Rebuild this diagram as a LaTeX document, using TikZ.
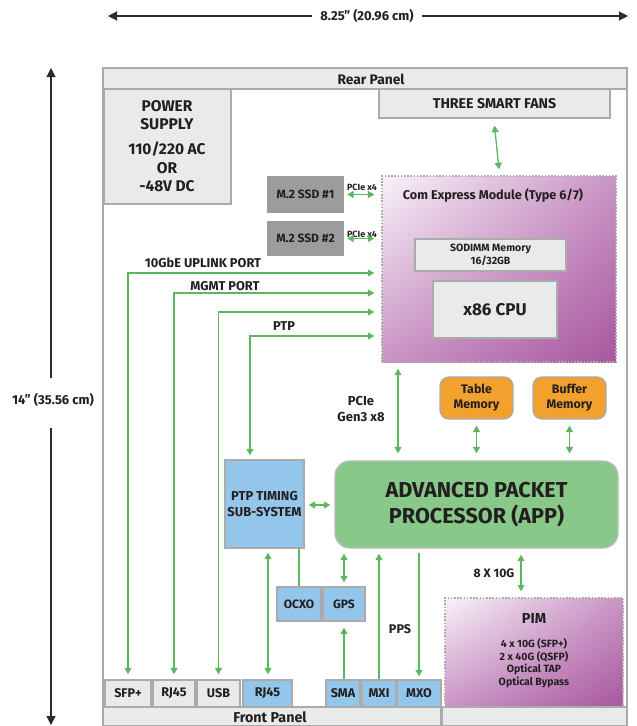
\documentclass[tikz,border=0pt]{standalone}
\usepackage{fontspec}
\setmainfont{Fira Sans}
\usetikzlibrary{arrows.meta,calc,shadings}
\definecolor{boxgray}{HTML}{E9EBEA}
\definecolor{bgray}{HTML}{ABABAB}
\definecolor{ssdgray}{HTML}{9C9C9C}
\definecolor{lblue}{HTML}{93C6EA}
\definecolor{appgreen}{HTML}{88C98A}
\definecolor{agreen}{HTML}{5DB760}
\definecolor{orng}{HTML}{F2A12E}
\definecolor{pdark}{HTML}{A8579F}
\definecolor{pmid}{HTML}{C994C4}
\definecolor{plight}{HTML}{F8F2F8}
\definecolor{txt}{HTML}{231F20}
\definecolor{dimc}{HTML}{2B2B2B}
\newcommand{\fs}[1]{\fontsize{#1}{\dimexpr #1pt*6/5\relax}\selectfont\bfseries}
% name, x1, y1, x2, y2, style, text
\newcommand{\mybox}[7]{\node[#6, minimum width={#4-#2}, minimum height={#5-#3}] (#1) at ({(#2+#4)/2},{(#3+#5)/2}) {#7};}
\begin{document}
\begin{tikzpicture}[x=1pt,y=-1pt,
  every node/.style={text=txt, inner sep=0pt, align=center},
  gbox/.style={draw=bgray, line width=1.3pt, fill=boxgray},
  ssd/.style={draw=none, fill=ssdgray, font=\fs{12}},
  bbox/.style={draw=bgray, line width=1.3pt, fill=lblue},
  obox/.style={draw=bgray, line width=1.3pt, fill=orng, rounded corners=9pt, font=\fs{12.4}},
  purp/.style={upper left=plight, upper right=pmid, lower left=pmid, lower right=pdark,
     draw=bgray, line width=1.4pt, dash pattern=on 1.6pt off 1.6pt},
  tipg/.tip={Triangle[width=7pt,length=6.5pt]},
  gone/.style={draw=agreen, line width=1.3pt, -tipg},
  gtwo/.style={draw=agreen, line width=1.3pt, tipg-tipg},
  gplain/.style={draw=agreen, line width=1.3pt},
  dim/.style={draw=dimc, line width=1.1pt, -{Triangle[width=9pt,length=9pt]}},
  lbl/.style={font=\fs{12.8}},
  port/.style={font=\fs{12.6}}
]
\useasboundingbox (0,0) rectangle (637,726);
\fill[white] (0,0) rectangle (637,726);

% dimension arrows
\node[font=\fs{13}] (wlbl) at (367,16) {8.25” (20.96 cm)};
\coordinate (wl) at (108,16);
\coordinate (wr) at (628,16);
\draw[dim] (wlbl.west) ++(-8,0) -- (wl);
\draw[dim] (wlbl.east) ++(8,0) -- (wr);
\node[font=\fs{13}] (hlbl) at (53,400) {14” (35.56 cm)};
\coordinate (ht) at (51,68);
\coordinate (hb) at (51,725);
\draw[dim] (51,378) -- (ht);
\draw[dim] (51,428) -- (hb);

% frame
\draw[draw=bgray, line width=1.3pt] (103,726) -- (103,68) -- (627,68) -- (627,726);
\mybox{rear}{103}{68}{627}{89}{gbox}{}
\node[font=\fs{13.8}] (reart) at (371,79) {Rear Panel};
\mybox{power}{104}{89}{231}{204}{gbox}{}
\node[font=\fs{15.5}, align=center] (powertxt) at (167,115) {POWER\\SUPPLY};
\node[font=\fs{15.5}, align=center] (acdc) at (167,167) {110/220 AC\\OR\\-48V DC};
\mybox{fans}{379}{89}{610}{118}{gbox, font=\fs{14.2}}{THREE SMART FANS}

% Com Express
\mybox{com}{382}{176}{616}{362}{shade, purp}{}
\node[font=\fs{12.7}] (comt) at (493,195) {Com Express Module (Type 6/7)};
\mybox{sodimm}{415}{239}{566}{271}{gbox, font=\fs{10.5}}{SODIMM Memory\\16/32GB}
\mybox{cpu}{433}{281}{557}{338}{gbox, font=\fs{17}}{x86 CPU}

% SSDs
\mybox{ssda}{267}{176}{344}{213}{ssd}{M.2 SSD \#1}
\mybox{ssdb}{267}{221}{344}{256}{ssd}{M.2 SSD \#2}
\node[font=\fs{9}] (pcia) at (362,187) {PCIe x4};
\node[font=\fs{9}] (pcib) at (362,234) {PCIe x4};

% memories
\mybox{tmem}{440}{377}{513}{419}{obox}{Table\\Memory}
\mybox{bmem}{533}{377}{606}{419}{obox}{Buffer\\Memory}

% APP
\mybox{app}{335}{461}{618}{548}{draw=bgray!80, line width=1.3pt, fill=appgreen, rounded corners=15pt, font=\fs{21.6}}{ADVANCED PACKET\\PROCESSOR (APP)}
\mybox{ptp}{225}{460}{304}{548}{bbox, font=\fs{12.9}}{PTP TIMING\\SUB-SYSTEM}
\mybox{ocxo}{277}{587}{321}{621}{bbox, font=\fs{12.1}}{OCXO}
\mybox{gps}{323}{587}{365}{621}{bbox, font=\fs{12.1}}{GPS}

% PIM
\mybox{pim}{445}{598}{623}{707}{shade, purp}{}
\node[font=\fs{14.5}] (pimt) at (534,618) {PIM};
\node[font=\fs{10.5}, align=center] (pimd) at (534,663) {4 x 10G (SFP+)\\2 x 40G (QSFP)\\Optical TAP\\Optical Bypass};

% bottom ports
\mybox{sfp}{105}{680}{151}{707}{gbox, port}{SFP+}
\mybox{rja}{153}{680}{195}{707}{gbox, port}{RJ45}
\mybox{usb}{197}{680}{240}{707}{gbox, port}{USB}
\mybox{rjb}{243}{680}{292}{707}{bbox, port}{RJ45}
\mybox{sma}{326}{680}{360}{707}{bbox, port}{SMA}
\mybox{mxi}{362}{680}{396}{707}{bbox, port}{MXI}
\mybox{mxo}{397}{680}{441}{707}{bbox, port}{MXO}
\mybox{frontl}{103}{707}{441}{726}{gbox}{}
\node[font=\fs{14.3}] (frontt) at (270,717) {Front Panel};
\mybox{frontr}{442}{707}{627}{726}{gbox}{}

% labels
\node[lbl] (l10g) at (203,263) {10GbE UPLINK PORT};
\node[lbl] (lmgmt) at (225,286) {MGMT PORT};
\node[lbl] (lptp) at (284,326) {PTP};
\node[font=\fs{13}, align=center] (lpcie) at (361,409) {PCIe\\Gen3 x8};
\node[font=\fs{12.2}] (l8x) at (494,573) {8 X 10G};
\node[font=\fs{12.6}] (lpps) at (400,629) {PPS};

% connectors
\draw[gtwo] ([yshift=-7pt]fans.south) -- ([yshift=6pt]com.north);
\draw[gtwo] ([xshift=3pt]ssda.east) -- ([xshift=-7pt]com.west |- ssda.east);
\draw[gtwo] ([xshift=3pt]ssdb.east) -- ([xshift=-7pt]com.west |- ssdb.east);
\coordinate (y10) at (0,273);
\coordinate (ymg) at (0,293);
\coordinate (yus) at (0,312);
\coordinate (ypt) at (0,336);
\coordinate (yap) at (0,505);
\draw[gtwo] ([yshift=5pt]sfp.north) -- (sfp.north |- y10) -- ([xshift=-7pt]com.west |- y10);
\draw[gtwo] ([yshift=5pt]rja.north) -- (rja.north |- ymg) -- ([xshift=-7pt]com.west |- ymg);
\draw[gtwo] ([yshift=5pt]usb.north) -- (usb.north |- yus) -- ([xshift=-7pt]com.west |- yus);
\coordinate (ptpx) at (250,0);
\draw[gtwo] ([yshift=4pt]ptpx |- ptp.north) -- (ptpx |- ypt) -- ([xshift=-7pt]com.west |- ypt);
\coordinate (pcix) at (398,0);
\draw[gtwo] ([yshift=-6pt]pcix |- com.south) -- ([yshift=7pt]pcix |- app.north);
\draw[gtwo] ([yshift=-6pt]tmem.south) -- ([yshift=7pt]tmem.south |- app.north);
\draw[gtwo] ([yshift=-6pt]bmem.south) -- ([yshift=7pt]bmem.south |- app.north);
\draw[gtwo] ([xshift=4pt]ptp.east |- yap) -- ([xshift=-4pt]app.west |- yap);
\coordinate (gx) at (344,0);
\draw[gtwo] ([yshift=-5pt]gx |- app.south) -- ([yshift=4pt]gx |- gps.north);
\draw[gone] (gx |- sma.north) -- ([yshift=-6pt]gx |- gps.south);
\coordinate (rx) at (268,0);
\draw[gtwo] ([yshift=5pt]rx |- rjb.north) -- ([yshift=-4pt]rx |- ptp.south);
\coordinate (mxix) at (379,0);
\draw[gone] (mxix |- mxi.north) -- ([yshift=-5pt]mxix |- app.south);
\coordinate (mxox) at (419,0);
\draw[gone] ([yshift=-4pt]mxox |- app.south) -- ([yshift=3pt]mxox |- mxo.north);
\coordinate (ox) at (299,0);
\draw[gplain] (ox |- ptp.south) -- (ox |- ocxo.north);
\coordinate (px) at (521,0);
\draw[gtwo] ([yshift=-6pt]px |- app.south) -- ([yshift=6pt]px |- pim.north);
\end{tikzpicture}
\end{document}
